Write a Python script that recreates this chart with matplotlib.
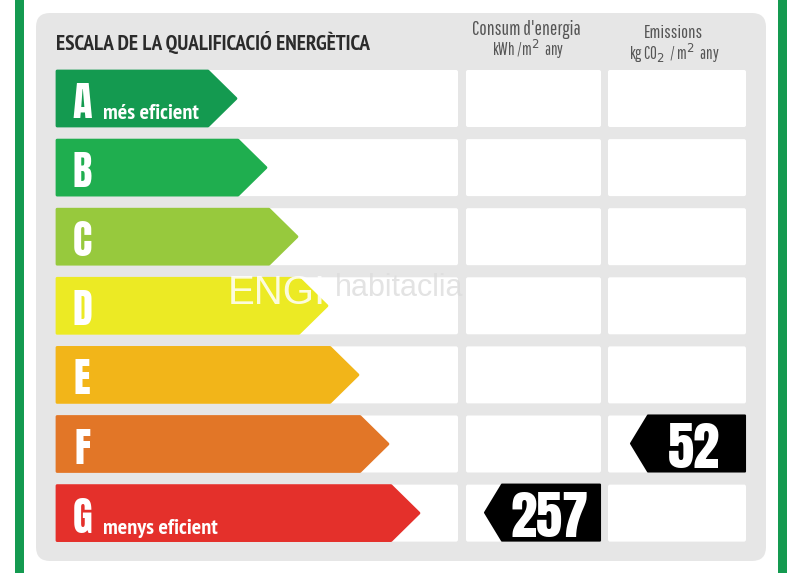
import matplotlib as mpl
mpl.use('Agg')
import matplotlib.pyplot as plt
from matplotlib.patches import FancyBboxPatch, Polygon, Rectangle

# classes, top to bottom
letters = ['A', 'B', 'C', 'D', 'E', 'F', 'G']
captions = ['més eficient', '', '', '', '', '', 'menys eficient']
tips = [237, 267, 298, 328, 359, 389, 420]
colors = ['#149a50', '#1fae4f', '#97c93d', '#ecea24', '#f2b519', '#e27627', '#e4302b']

consum_value = '257'
consum_row = 6
emissions_value = '52'
emissions_row = 5

GREEN = '#149a50'
HEAVY = ['Anton', 'Liberation Sans', 'DejaVu Sans']
BOLD = ['PT Sans Narrow', 'Liberation Sans', 'DejaVu Sans']
THIN = ['Pathway Gothic One', 'Liberation Sans', 'DejaVu Sans']

fig = plt.figure(figsize=(8, 5.73), dpi=100)
ax = fig.add_axes([0, 0, 1, 1])
ax.set_xlim(0, 800)
ax.set_ylim(573, 0)
ax.axis('off')

row_top = lambda i: 70 + i * 69.1
row_h = 57


def rbox(x0, y0, x1, y1, r, color, z=1):
    ax.add_patch(FancyBboxPatch((x0 + r, y0 + r), x1 - x0 - 2 * r, y1 - y0 - 2 * r,
                                boxstyle='round,pad=%g,rounding_size=%g' % (r, r),
                                fc=color, ec='none', zorder=z))


# green side rules and the grey panel
ax.add_patch(Rectangle((15, 0), 9, 573, fc=GREEN, ec='none'))
ax.add_patch(Rectangle((778, 0), 9, 573, fc=GREEN, ec='none'))
rbox(36, 13, 766, 561, 14, '#e6e6e6')

# white cells
for i in range(len(letters)):
    y = row_top(i)
    for x0, x1 in [(56, 458), (466, 601), (608, 746)]:
        rbox(x0, y, x1, y + row_h, 2, 'white', z=2)

# class arrows
for i, (letter, caption, tip, color) in enumerate(zip(letters, captions, tips, colors)):
    y = row_top(i)
    pts = [(57, y + 1), (tip - 29, y + 1), (tip - 1, y + row_h / 2), (tip - 29, y + row_h - 1), (57, y + row_h - 1)]
    ax.add_patch(Polygon(pts, closed=True, fc=color, ec=color, lw=2, joinstyle='round', zorder=3))
    ax.text(82, y + 48, letter, color='white', fontsize=29, family=HEAVY,
            ha='center', va='baseline', zorder=4)
    if caption:
        ax.text(103, y + 49, caption, color='white', fontsize=16, fontweight='bold', family=BOLD,
                ha='left', va='baseline', zorder=4)

# header
ax.text(56, 50, 'ESCALA DE LA QUALIFICACIÓ ENERGÈTICA', color='#2b2b2b', fontsize=15.2,
        fontweight='bold', family=BOLD, ha='left', va='baseline')
ax.text(526, 35, "Consum d'energia", color='#555555', fontsize=14, family=THIN,
        ha='center', va='baseline')
ax.text(528, 56, 'kWh /m$^{2}$  any', color='#555555', fontsize=12, family=THIN,
        ha='center', va='baseline', math_fontfamily='dejavusans')
ax.text(673, 38, 'Emissions', color='#555555', fontsize=13.3, family=THIN,
        ha='center', va='baseline')
ax.text(674, 60, 'kg CO$_{2}$  / m$^{2}$  any', color='#555555', fontsize=12, family=THIN,
        ha='center', va='baseline', math_fontfamily='dejavusans')


# black value tags
def tag(x0, x1, row, value, tx):
    y = row_top(row) - 1
    pts = [(x0 + 1, y + 29), (x0 + 18, y + 1), (x1 - 1, y + 1), (x1 - 1, y + 57), (x0 + 18, y + 57)]
    ax.add_patch(Polygon(pts, closed=True, fc='black', ec='black', lw=1.5, joinstyle='round', zorder=5))
    ax.text(tx, y + 53, value, color='white', fontsize=38, family=HEAVY,
            ha='center', va='baseline', zorder=6)


tag(484, 601, consum_row, consum_value, 549)
tag(630, 746, emissions_row, emissions_value, 694)

# watermark
ax.text(228, 304, 'ENGI', color='white', alpha=0.85, fontsize=29, family='Liberation Sans',
        ha='left', va='baseline', zorder=7)
ax.text(335, 296, 'habitaclia', color='#dcdcdc', alpha=0.8, fontsize=22, family='Liberation Sans',
        ha='left', va='baseline', zorder=7)

fig.savefig('out.png', dpi=100)
